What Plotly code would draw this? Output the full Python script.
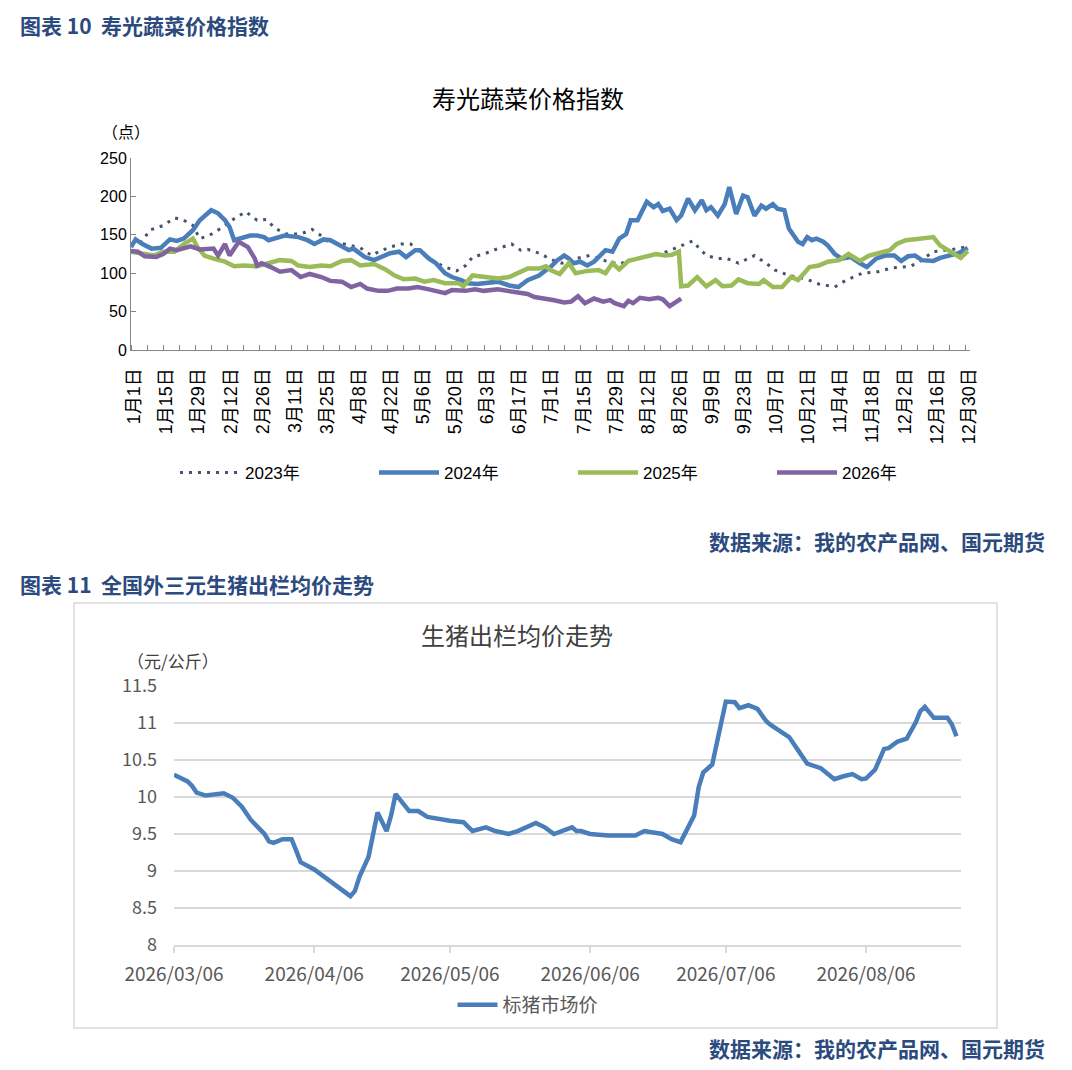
import datetime
import pandas as pd
import plotly.graph_objects as go

W, H = 1072, 1070
PAGE_MARGIN = 8  # the html body adds 8px round the figure

# ---- 寿光蔬菜价格指数 (day of year, index value) ----
days_2023 = [0, 5, 8, 14, 19, 23, 27, 30, 34, 39, 45, 50, 55, 59, 63, 68, 74, 79, 82, 86,
             93, 100, 105, 108, 113, 118, 122, 125, 131, 137, 142, 146, 149, 154, 160, 166,
             170, 173, 179, 183, 188, 194, 200, 207, 213, 219, 226, 231, 237, 245, 248, 251,
             256, 260, 265, 272, 277, 281, 287, 294, 300, 307, 312, 319, 326, 332, 340, 344,
             350, 357, 361, 365]
vals_2023 = [138, 141, 156, 162, 172, 169, 162, 145, 149, 158, 171, 180, 169, 170, 158, 151,
             151, 157, 151, 141, 138, 133, 123, 128, 134, 138, 138, 130, 117, 108, 103, 110,
             121, 125, 132, 138, 130, 131, 125, 118, 113, 119, 123, 116, 112, 118, 122, 125,
             132, 142, 132, 123, 119, 119, 113, 123, 113, 104, 97, 93, 86, 82, 91, 100, 102,
             107, 109, 115, 128, 130, 132, 135]

days_2024 = [0, 2, 5, 9, 13, 17, 20, 23, 27, 30, 35, 38, 41, 43, 45, 48, 52, 55, 58, 60, 63,
             67, 73, 77, 80, 84, 87, 92, 95, 97, 102, 106, 109, 113, 117, 120, 124, 126, 130,
             133, 137, 140, 144, 147, 151, 156, 160, 165, 169, 173, 178, 181, 183, 186, 189,
             191, 193, 196, 199, 202, 207, 210, 213, 216, 218, 221, 225, 228, 230, 232, 235,
             238, 240, 243, 246, 249, 251, 253, 256, 259, 261, 264, 267, 269, 272, 275, 277,
             280, 282, 285, 287, 291, 293, 295, 297, 299, 302, 304, 307, 310, 314, 318, 321,
             325, 329, 333, 336, 339, 342, 345, 350, 353, 358, 361, 365]
vals_2024 = [134, 144, 138, 132, 133, 144, 142, 145, 156, 169, 182, 178, 169, 160, 143, 145,
             149, 149, 147, 143, 145, 149, 147, 143, 138, 144, 143, 134, 130, 132, 121, 117,
             121, 126, 128, 121, 130, 130, 119, 113, 100, 95, 91, 87, 86, 87, 89, 84, 82, 91,
             97, 104, 108, 117, 123, 119, 113, 115, 110, 115, 130, 128, 145, 151, 169, 169,
             193, 186, 190, 181, 184, 169, 175, 197, 182, 195, 182, 186, 175, 190, 212, 177,
             201, 199, 175, 188, 184, 190, 184, 182, 158, 141, 138, 147, 143, 145, 141, 136,
             125, 119, 121, 113, 108, 119, 123, 123, 116, 122, 123, 117, 116, 120, 123, 126,
             133]

days_2025 = [0, 5, 10, 14, 19, 23, 27, 29, 32, 36, 41, 45, 49, 55, 61, 65, 70, 73, 78, 83,
             87, 92, 96, 100, 106, 111, 115, 119, 124, 128, 132, 137, 143, 145, 149, 154, 160,
             165, 169, 173, 178, 181, 183, 187, 191, 194, 199, 204, 207, 210, 213, 217, 221,
             226, 229, 233, 236, 239, 240, 243, 247, 251, 255, 258, 262, 265, 269, 274, 276,
             280, 284, 288, 291, 296, 300, 304, 309, 313, 318, 322, 326, 331, 334, 338, 344,
             350, 353, 358, 362, 365]
vals_2025 = [128, 126, 123, 128, 128, 138, 145, 134, 123, 119, 115, 109, 110, 109, 113, 117,
             116, 110, 108, 110, 109, 116, 117, 110, 112, 105, 97, 92, 93, 89, 91, 87, 87, 83,
             97, 95, 93, 95, 100, 106, 106, 109, 104, 99, 113, 100, 103, 104, 100, 113, 105,
             116, 119, 123, 125, 123, 124, 128, 83, 84, 95, 83, 91, 83, 84, 92, 87, 86, 91,
             82, 82, 95, 91, 108, 110, 115, 117, 125, 116, 123, 126, 130, 138, 143, 145, 147,
             136, 128, 120, 129]

days_2026 = [0, 3, 6, 9, 11, 14, 17, 20, 23, 26, 30, 33, 36, 38, 41, 43, 47, 51, 54, 55, 57,
             61, 65, 70, 74, 78, 83, 87, 92, 96, 100, 103, 108, 112, 116, 121, 125, 130, 137,
             140, 146, 150, 154, 160, 165, 169, 173, 176, 181, 184, 189, 192, 195, 198, 202,
             206, 209, 211, 215, 217, 219, 222, 226, 230, 232, 235, 237, 240]
vals_2026 = [129, 128, 122, 121, 121, 125, 132, 130, 132, 135, 131, 132, 132, 123, 138, 123,
             141, 134, 119, 110, 113, 108, 102, 104, 95, 99, 95, 90, 89, 82, 86, 80, 77, 77,
             80, 80, 82, 79, 74, 78, 77, 79, 77, 79, 77, 74, 73, 69, 67, 65, 62, 63, 70, 61,
             67, 63, 65, 61, 57, 64, 61, 68, 66, 68, 66, 57, 61, 67]

# ---- 生猪出栏均价 (days after 2026/03/06, 元/公斤) ----
pig_days = [0, 3, 4, 5, 7, 10, 11, 13, 15, 17, 19, 20, 21, 22, 24, 26, 27, 28, 31, 34, 39,
            40, 41, 43, 45, 47, 48, 49, 52, 54, 56, 61, 64, 66, 69, 71, 74, 76, 78, 80, 82,
            84, 88, 89, 90, 92, 96, 99, 102, 104, 108, 110, 112, 115, 116, 117, 119, 122, 124,
            125, 127, 129, 131, 132, 136, 138, 140, 143, 145, 146, 148, 150, 152, 153, 155,
            157, 158, 160, 162, 164, 165, 166, 168, 171, 172, 173]
pig_price = [10.30, 10.21, 10.15, 10.06, 10.02, 10.05, 10.05, 9.99, 9.87, 9.69, 9.57, 9.50,
             9.40, 9.38, 9.43, 9.43, 9.28, 9.12, 9.02, 8.89, 8.66, 8.73, 8.92, 9.19, 9.79,
             9.54, 9.75, 10.04, 9.81, 9.81, 9.73, 9.68, 9.66, 9.54, 9.59, 9.54, 9.50, 9.54,
             9.59, 9.65, 9.59, 9.50, 9.59, 9.54, 9.54, 9.50, 9.48, 9.48, 9.48, 9.54, 9.50,
             9.43, 9.39, 9.75, 10.13, 10.33, 10.44, 11.29, 11.28, 11.20, 11.24, 11.19, 11.02,
             10.97, 10.81, 10.63, 10.45, 10.39, 10.28, 10.24, 10.28, 10.31, 10.24, 10.25,
             10.37, 10.65, 10.66, 10.75, 10.79, 11.01, 11.16, 11.22, 11.07, 11.07, 10.98, 10.82]

pig_start = pd.Timestamp("2026-03-06")
pig_dates = [pig_start + pd.Timedelta(days=d) for d in pig_days]

pig_yticks = [8, 8.5, 9, 9.5, 10, 10.5, 11, 11.5]

# x tick labels for the vegetable chart (leap-year calendar, every 14 days)
label_days = list(range(0, 365, 14))
base = datetime.date(2024, 1, 1)
label_text = []
for d in label_days:
    dt = base + datetime.timedelta(days=d)
    label_text.append(f"{dt.month}月{dt.day}日")

NAVY = "#2B4A7E"
CJK = "Noto Sans CJK SC"
SANS = "Liberation Sans, Noto Sans CJK SC"


def px_x(x):
    return (x - PAGE_MARGIN) / W


def px_y(y):
    return 1 - (y - PAGE_MARGIN) / H


fig = go.Figure()

series = [
    ("2023年", days_2023, vals_2023, dict(color="#44546A", width=3, dash="3px,6px")),
    ("2024年", days_2024, vals_2024, dict(color="#4A7EBB", width=4.5)),
    ("2025年", days_2025, vals_2025, dict(color="#9BBB59", width=4.5)),
    ("2026年", days_2026, vals_2026, dict(color="#8064A2", width=4.5)),
]
for name, d, v, line in series:
    fig.add_trace(
        go.Scatter(x=d, y=v, mode="lines", name=name, line=line,
                   xaxis="x", yaxis="y", legend="legend")
    )

fig.add_trace(
    go.Scatter(x=pig_dates, y=pig_price, mode="lines", name="标猪市场价",
               line=dict(color="#4A7EBB", width=4.5),
               xaxis="x2", yaxis="y2", legend="legend2")
)

fig.update_layout(
    width=W,
    height=H,
    margin=dict(l=0, r=0, t=0, b=0, autoexpand=False),
    paper_bgcolor="white",
    plot_bgcolor="white",
    showlegend=True,
    xaxis=dict(
        domain=[px_x(131), px_x(970)],
        range=[0, 366],
        tickmode="array",
        tickvals=[d + 1.5 for d in label_days],
        ticktext=label_text,
        tickangle=-90,
        ticks="",
        ticklabelstandoff=10,
        tickfont=dict(family=SANS, size=18, color="black"),
        showline=True,
        linecolor="#868686",
        linewidth=1,
        showgrid=False,
        zeroline=False,
        automargin=False,
        minor=dict(ticks="inside", tick0=0, dtick=7, ticklen=5,
                   tickcolor="#868686", showgrid=False),
        anchor="y",
    ),
    yaxis=dict(
        domain=[px_y(350), px_y(158)],
        range=[0, 250],
        dtick=50,
        ticks="inside",
        ticklen=5,
        tickcolor="#868686",
        tickfont=dict(family=SANS, size=16, color="black"),
        showline=True,
        linecolor="#868686",
        linewidth=1,
        showgrid=False,
        zeroline=False,
        automargin=False,
        anchor="x",
    ),
    xaxis2=dict(
        domain=[px_x(174), px_x(961)],
        type="date",
        range=["2026-03-06", "2026-08-27"],
        tick0="2026-03-06",
        dtick="M1",
        tickformat="%Y/%m/%d",
        ticks="outside",
        ticklen=6,
        tickcolor="#D9D9D9",
        tickwidth=1.5,
        ticklabelstandoff=5,
        tickfont=dict(family=CJK, size=19, color="#595959"),
        showline=True,
        linecolor="#D9D9D9",
        linewidth=1.5,
        showgrid=False,
        zeroline=False,
        automargin=False,
        anchor="y2",
    ),
    yaxis2=dict(
        domain=[px_y(945), px_y(686)],
        range=[8, 11.5],
        tickmode="array",
        tickvals=pig_yticks,
        ticktext=[f"{v:g}" for v in pig_yticks],
        ticks="",
        ticklabelstandoff=16,
        tickfont=dict(family=CJK, size=18, color="#595959"),
        showline=False,
        showgrid=True,
        gridcolor="#D9D9D9",
        gridwidth=1.5,
        zeroline=False,
        automargin=False,
        anchor="x2",
    ),
    legend=dict(
        orientation="h",
        x=px_x(175), xanchor="left",
        y=px_y(473), yanchor="middle",
        font=dict(family=SANS, size=17, color="black"),
        entrywidth=124, entrywidthmode="pixels",
        itemwidth=60,
        bgcolor="rgba(0,0,0,0)",
    ),
    legend2=dict(
        orientation="h",
        x=px_x(528), xanchor="center",
        y=px_y(1005), yanchor="middle",
        font=dict(family=CJK, size=19, color="#595959"),
        itemwidth=40,
        bgcolor="rgba(0,0,0,0)",
    ),
)

# frame round the second chart
fig.add_shape(type="rect", xref="paper", yref="paper",
              x0=px_x(74), x1=px_x(997), y0=px_y(1028), y1=px_y(603),
              line=dict(color="#D9D9D9", width=1.5))

texts = [
    ("图表 10  寿光蔬菜价格指数", 18, 25, "left", 21, NAVY, True),
    ("数据来源：我的农产品网、国元期货", 1047, 541, "right", 21, NAVY, True),
    ("图表 11  全国外三元生猪出栏均价走势", 18, 584, "left", 21, NAVY, True),
    ("数据来源：我的农产品网、国元期货", 1047, 1048, "right", 21, NAVY, True),
    ("寿光蔬菜价格指数", 528, 97, "center", 24, "black", False),
    ("（点）", 126, 131, "center", 16, "black", False),
    ("生猪出栏均价走势", 517, 634, "center", 24, "#404040", False),
    ("（元/公斤）", 173, 660, "center", 17, "#404040", False),
]
for text, x, y, align, size, color, bold in texts:
    fig.add_annotation(
        text=f"<b>{text}</b>" if bold else text,
        x=px_x(x), y=px_y(y), xref="paper", yref="paper",
        xanchor=align, yanchor="middle", showarrow=False,
        font=dict(family=CJK, size=size, color=color),
    )

fig.write_html("out.html")
